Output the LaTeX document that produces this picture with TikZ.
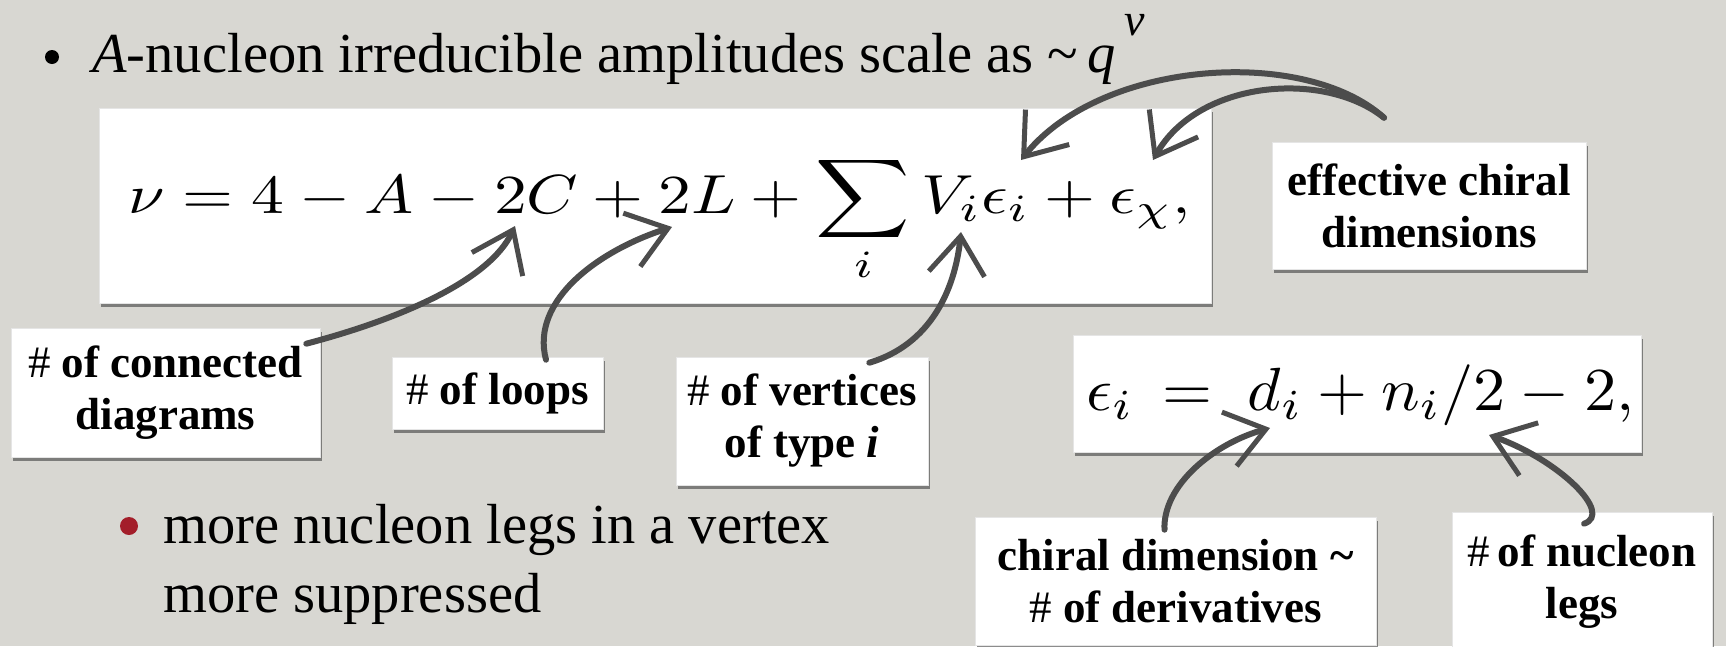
\documentclass[tikz,border=0pt]{standalone}
\usepackage[no-math]{fontspec}
\setmainfont{Liberation Serif}
\usepackage{graphicx}
\usetikzlibrary{arrows.meta,shadows}
\definecolor{paper}{RGB}{216,215,210}
\definecolor{ink}{RGB}{76,76,76}
\definecolor{dotred}{RGB}{163,30,42}
\begin{document}
\begin{tikzpicture}[x=1pt,y=-1pt,
  box/.style={fill=white, draw=black!10, line width=0.6pt, inner sep=0pt,
     drop shadow={shadow xshift=1.5pt, shadow yshift=-4pt, opacity=0.6, fill=black!75}},
  lbl/.style={box, align=center, font=\fontsize{45}{52}\selectfont\bfseries},
  arr/.style={draw=ink, line width=6pt, line cap=round,
     -{Straight Barb[length=38pt,width=56pt,line width=5pt]}},
  body/.style={anchor=base west, inner sep=0pt, font=\fontsize{56.5}{69}\selectfont}
]
\useasboundingbox (0,0) rectangle (1726,646);
\fill[paper] (0,0) rectangle (1726,646);

% first bullet line
\fill[black] (52,57) circle (7);
\node[body] (l1) at (92,72) {\textit{A}-nucleon irreducible amplitudes scale as \textasciitilde\,\textit{q}\hspace{8pt}\raisebox{37pt}{\fontsize{46}{50}\selectfont\textit{ν}}};

% boxes
\node[box, minimum width=1112pt, minimum height=195pt] (eqbox) at (655,205.5) {};
\node[lbl, minimum width=314pt, minimum height=127pt] (eff) at (1429,205.5) {effective chiral\\dimensions};
\node[lbl, minimum width=309pt, minimum height=129pt] (conn) at (165.5,392.5) {{\mdseries\#} of connected\\diagrams};
\node[lbl, minimum width=211pt, minimum height=72pt] (loops) at (497.5,393) {{\mdseries\#} of loops};
\node[lbl, minimum width=252pt, minimum height=128pt] (vert) at (802,421) {{\mdseries\#} of vertices\\of type \textit{i}};
\node[box, minimum width=568pt, minimum height=117pt] (epsbox) at (1357,393.5) {};
\node[lbl, minimum width=401pt, minimum height=128pt] (chiral) at (1175.5,581) {chiral dimension \textasciitilde\\{\mdseries\#} of derivatives};
\node[lbl, minimum width=260pt, minimum height=140pt] (nucleon) at (1582,582) {{\mdseries\#}\,of nucleon\\legs};

% formulas
\node[anchor=base west, inner sep=0pt] (eq) at (128,213)
  {\resizebox{1062pt}{5.5\height}{$\displaystyle \nu = 4 - A - 2C + 2L + \sum_i V_i\epsilon_i + \epsilon_\chi,$}};
\node[anchor=base west, inner sep=0pt] (epseq) at (1086,410)
  {\resizebox{548pt}{6.1\height}{$\epsilon_i \,=\; d_i + n_i/2 - 2,$}};

% arrow ends
\coordinate (tC) at (515,226);
\coordinate (tL) at (672,227);
\coordinate (tV) at (961,232);
\coordinate (tEi) at (1021,160);
\coordinate (tEx) at (1153,160);
\coordinate (td) at (1270,428);
\coordinate (tn) at (1489,435);
\coordinate (sC) at ([shift={(-14,16)}]conn.north east);
\coordinate (sL) at ([shift={(48.5,3)}]loops.north);
\coordinate (sV) at ([shift={(-59,6)}]vert.north east);
\coordinate (sd) at ([shift={(-11,13)}]chiral.north);
\coordinate (sn) at ([shift={(2,12)}]nucleon.north);
\coordinate (sE) at ([shift={(-45,-24)}]eff.north);

% arrows
\draw[arr] (sC) .. controls +(95,-25) and +(-25,54) .. (tC);
\draw[arr] (sL) .. controls +(-16,-60) and +(-72,23) .. (tL);
\draw[arr] (sV) .. controls +(61,-18) and +(-6,58) .. (tV);
\draw[arr] (sd) .. controls +(-2,-45) and +(-55,15) .. (td);
\draw[arr] (sn) .. controls +(30,-10) and +(70,25) .. (tn);
\draw[arr] (sE) .. controls +(-80,-72) and +(80,-100) .. (tEi);
\draw[arr] (sE) .. controls +(-60,-48) and +(45,-80) .. (tEx);

% second bullet
\fill[dotred] (129,526) circle (9);
\node[body] (l2a) at (163,543) {more nucleon legs in a vertex};
\node[body] (l2b) at (163,612) {more suppressed};
\end{tikzpicture}
\end{document}
